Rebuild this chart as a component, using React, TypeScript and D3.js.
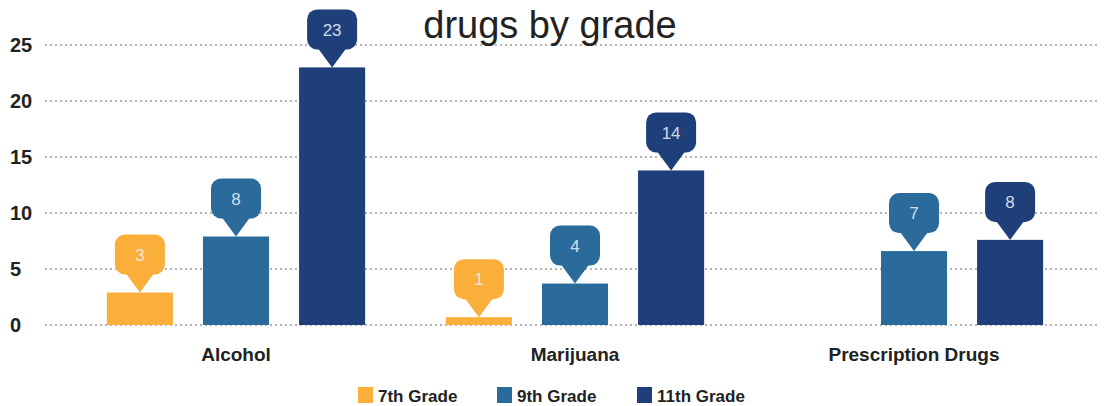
import React from "react";
import * as d3 from "d3";

const categories = ["Alcohol", "Marijuana", "Prescription Drugs"];
const series = ["7th Grade", "9th Grade", "11th Grade"];
const grade7 = [2.9, 0.7, 0];
const grade9 = [7.9, 3.7, 6.6];
const grade11 = [23, 13.8, 7.6];
const yTicks = [0, 5, 10, 15, 20, 25];
const colors = ["#F9AF3A", "#2B6B9C", "#1F3F7B"];

const W = 1111, H = 406;
const M = { left: 66.5, right: 27.5, top: 45, bottom: 81 };

export default function App() {
  const values = [grade7, grade9, grade11];
  const x0 = d3.scaleBand().domain(categories).range([M.left, W - M.right]).paddingInner(0).paddingOuter(0);
  const x1 = d3.scaleBand().domain(series).range([0, x0.bandwidth()]).paddingInner(0.3125).paddingOuter(0.42);
  const y = d3.scaleLinear().domain([0, 25]).range([H - M.bottom, M.top]);
  const font = "Liberation Sans, Arial, sans-serif";
  return (
    <svg width={W} height={H} style={{ position: "absolute", left: 0, top: 0, background: "#fff" }}>
      {yTicks.map((t) => (
        <g key={t}>
          <line x1={45} x2={1100} y1={y(t)} y2={y(t)} stroke="#9a9a9a" strokeWidth={1.5} strokeDasharray="2,3" />
          <text x={10} y={y(t)} dy="0.36em" fontFamily={font} fontWeight="bold" fontSize={20} fill="#222">{t}</text>
        </g>
      ))}
      <text x={550} y={38} textAnchor="middle" fontFamily={font} fontSize={38} fill="#222">drugs by grade</text>
      {categories.map((c, ci) => (
        <g key={c}>
          {series.map((s, si) => {
            const v = values[si][ci];
            if (!v) return null;
            const bx = (x0(c) as number) + (x1(s) as number);
            const bw = x1.bandwidth();
            const top = y(v);
            const cx = bx + bw / 2;
            const bh = 40, bwl = 50, ptr = 18;
            const by = top - ptr - bh;
            return (
              <g key={s}>
                <rect x={bx} y={top} width={bw} height={y(0) - top} fill={colors[si]} />
                <rect x={cx - bwl / 2} y={by} width={bwl} height={bh} rx={10} fill={colors[si]} />
                <path d={`M${cx - 14},${by + bh - 1} L${cx},${top} L${cx + 14},${by + bh - 1} Z`} fill={colors[si]} />
                <text x={cx} y={by + bh / 2} dy="0.36em" textAnchor="middle" fontFamily={font} fontSize={17} fill="#e8eef5" fillOpacity={0.9}>{Math.round(v)}</text>
              </g>
            );
          })}
          <text x={(x0(c) as number) + x0.bandwidth() / 2} y={361} textAnchor="middle" fontFamily={font} fontWeight="bold" fontSize={19} fill="#222">{c}</text>
        </g>
      ))}
      {series.map((s, i) => {
        const xs = [358, 497, 637][i];
        return (
          <g key={s}>
            <rect x={xs} y={387} width={15} height={16} fill={colors[i]} />
            <text x={xs + 20} y={396} dy="0.36em" fontFamily={font} fontWeight="bold" fontSize={17} fill="#222">{s}</text>
          </g>
        );
      })}
    </svg>
  );
}
